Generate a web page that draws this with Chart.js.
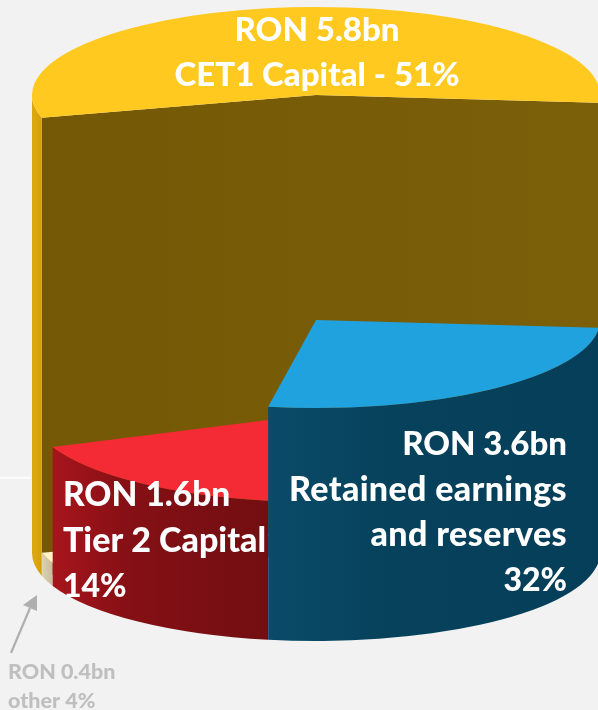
<!DOCTYPE html>
<html>
<head>
<meta charset="utf-8">
<script src="https://cdn.jsdelivr.net/npm/chart.js@4"></script>
<style>
html,body{margin:0;padding:0;background:#F2F2F2;overflow:hidden}
canvas{display:block}
</style>
</head>
<body>
<canvas id="c" width="598" height="710"></canvas>
<script>
// ---- data ----
const categories = ['CET1 Capital', 'Retained earnings and reserves', 'Tier 2 Capital', 'other'];
const amountsRonBn = [5.8, 3.6, 1.6, 0.4];
const sharesPct = [51, 32, 14, 4];
const columnHeights = [458, 233, 139, 23];

// ---- styles ----
const topColors = ['#FFC91F', '#1FA2DE', '#F42B35', '#FFF2C5'];
const wallStops = [
  ['#DCA80F', '#DCA80F', '#D49E0A'],
  ['#0A4B69', '#07425C', '#053E58'],
  ['#A8151C', '#851015', '#720E11'],
  ['#DDD5B4', '#D2CAA8', '#C6BE9C']
];
const FONT = 'Lato, "Open Sans", sans-serif';
const BASE_Y = 553, SQUASH = 88 / 284;
// Oblique view: where each slice boundary lands on the drawn ellipse (degrees, library angle -> view angle)
const viewKnots = [[165, 165], [348.16, 365], [461.84, 459.7], [512.37, 518], [525, 525]];

function toView(rad) {
  const d = rad * 180 / Math.PI;
  for (let i = 1; i < viewKnots.length; i++) {
    const [a0, b0] = viewKnots[i - 1], [a1, b1] = viewKnots[i];
    if (d <= a1 + 1e-6) return (b0 + (d - a0) / (a1 - a0) * (b1 - b0)) * Math.PI / 180;
  }
  return rad;
}

const pie3d = {
  id: 'pie3d',
  beforeDatasetsDraw(chart) {
    const ctx = chart.ctx;
    const arcs = chart.getDatasetMeta(0).data;
    // white rule behind the chart
    ctx.save();
    ctx.fillStyle = '#FFFFFF';
    ctx.fillRect(0, 477, 31, 1.5);
    ctx.restore();

    [0, 3, 2, 1].forEach(i => {
      const arc = arcs[i];
      const r = arc.outerRadius, ry = r * SQUASH;
      const a0 = toView(arc.startAngle), a1 = toView(arc.endAngle);
      const h = columnHeights[i];
      const topY = BASE_Y - h;
      const px = t => arc.x + r * Math.cos(t), py = (t, cy) => cy + ry * Math.sin(t);

      // cut faces of the tallest column
      if (i === 0) {
        const g = ctx.createLinearGradient(30, 0, 600, 0);
        g.addColorStop(0, '#745805');
        g.addColorStop(1, '#7B5F09');
        ctx.fillStyle = g;
        ctx.beginPath();
        ctx.moveTo(px(a0), py(a0, topY));
        ctx.lineTo(arc.x, topY);
        ctx.lineTo(px(a1), py(a1, topY));
        ctx.lineTo(px(a1), py(a1, BASE_Y));
        ctx.lineTo(arc.x, BASE_Y);
        ctx.lineTo(px(a0), py(a0, BASE_Y));
        ctx.closePath();
        ctx.fill();
      }

      // outer wall: only the front half of the ellipse is seen
      const f0 = a0;
      const f1 = i === 0 ? Math.PI : a1;
      const xA = px(f1), xB = px(f0);
      const wall = ctx.createLinearGradient(Math.min(xA, xB), 0, Math.max(xA, xB), 0);
      wall.addColorStop(0, wallStops[i][0]);
      wall.addColorStop(0.35, wallStops[i][1]);
      wall.addColorStop(1, wallStops[i][2]);
      ctx.fillStyle = wall;
      ctx.beginPath();
      ctx.ellipse(arc.x, topY, r, ry, 0, f0, f1, false);
      ctx.ellipse(arc.x, BASE_Y, r, ry, 0, f1, f0, true);
      ctx.closePath();
      ctx.fill();

      // top face: the library's own arc element, laid flat and lifted
      const keep = [arc.startAngle, arc.endAngle, arc.circumference];
      arc.startAngle = a0; arc.endAngle = a1; arc.circumference = a1 - a0;
      ctx.save();
      ctx.translate(arc.x, topY);
      ctx.scale(1, SQUASH);
      ctx.translate(-arc.x, -arc.y);
      arc.draw(ctx);
      ctx.restore();
      [arc.startAngle, arc.endAngle, arc.circumference] = keep;
    });
    return false;
  },
  afterDraw(chart) {
    const ctx = chart.ctx;
    const txt = (s, x, y, align, size, color, spacing) => {
      ctx.font = '900 ' + size + 'px ' + FONT;
      ctx.letterSpacing = (spacing || 0) + 'px';
      ctx.textAlign = align;
      ctx.textBaseline = 'alphabetic';
      ctx.fillStyle = color;
      ctx.fillText(s, x, y);
      ctx.letterSpacing = '0px';
    };
    const amt = i => 'RON ' + amountsRonBn[i].toFixed(1) + 'bn';
    const W = '#FFFFFF';
    txt(amt(0), 317, 41, 'center', 33, W);
    txt(categories[0] + ' - ' + sharesPct[0] + '%', 317, 86, 'center', 33, W);

    txt(amt(1), 567, 455, 'right', 33, W);
    txt('Retained earnings', 567, 501, 'right', 34, W, 0.35);
    txt('and reserves', 567, 546, 'right', 34, W, 0.4);
    txt(sharesPct[1] + '%', 567, 591, 'right', 32, W);

    txt(amt(2), 63, 506, 'left', 33.5, W);
    txt(categories[2], 63, 552, 'left', 34, W);
    txt(sharesPct[2] + '%', 63, 597, 'left', 32, W);

    txt(amt(3), 8, 679, 'left', 21.5, '#BFBFBF');
    txt(categories[3] + ' ' + sharesPct[3] + '%', 8, 708, 'left', 21.5, '#BFBFBF');

    // pointer arrow
    ctx.save();
    ctx.strokeStyle = '#AFAFAF';
    ctx.fillStyle = '#AFAFAF';
    ctx.lineWidth = 2.2;
    ctx.beginPath();
    ctx.moveTo(11, 653);
    ctx.lineTo(30, 608);
    ctx.stroke();
    ctx.beginPath();
    ctx.moveTo(37, 595);
    ctx.lineTo(23, 605);
    ctx.lineTo(37, 611);
    ctx.closePath();
    ctx.fill();
    ctx.restore();
  }
};

new Chart(document.getElementById('c'), {
  type: 'pie',
  data: {
    labels: categories,
    datasets: [{ data: amountsRonBn, backgroundColor: topColors, borderWidth: 0 }]
  },
  options: {
    responsive: false,
    animation: false,
    rotation: 255,
    radius: 284,
    layout: { padding: { left: 34 } },
    plugins: { legend: { display: false }, tooltip: { enabled: false } }
  },
  plugins: [pie3d]
});
</script>
</body>
</html>
